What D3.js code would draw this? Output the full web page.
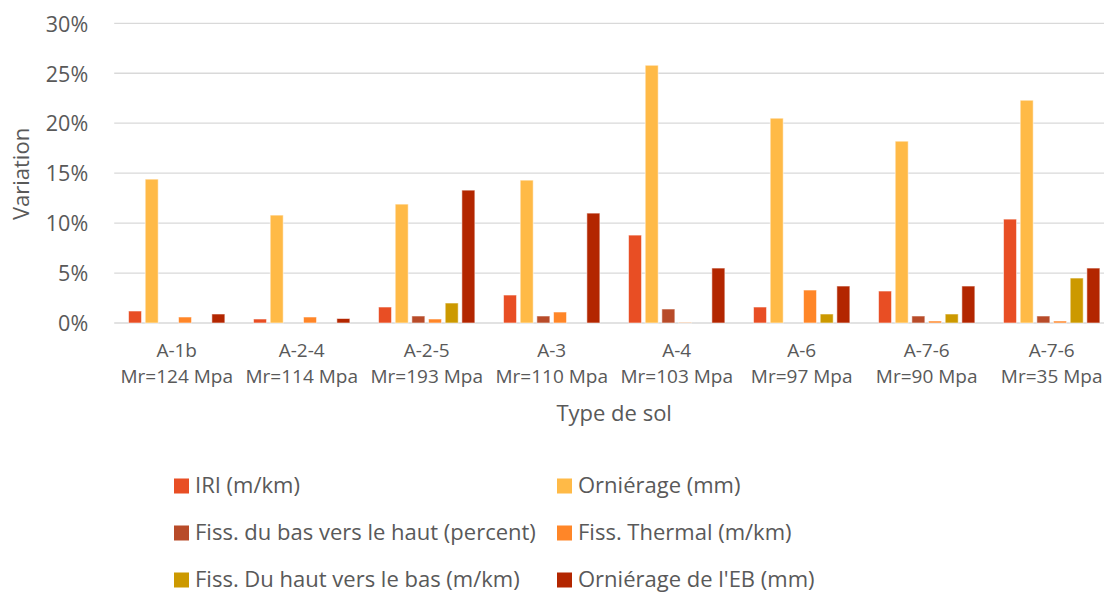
<!DOCTYPE html>
<html>
<head>
<meta charset="utf-8">
<script src="https://cdn.jsdelivr.net/npm/d3@7"></script>
<style>
  body { margin: 0; background: #fff; }
  svg { display: block; font-family: "Open Sans", sans-serif; }
</style>
</head>
<body>
<div id="root"></div>
<script>
const categories = ['A-1b', 'A-2-4', 'A-2-5', 'A-3', 'A-4', 'A-6', 'A-7-6', 'A-7-6'];
const moduli = ['Mr=124 Mpa', 'Mr=114 Mpa', 'Mr=193 Mpa', 'Mr=110 Mpa', 'Mr=103 Mpa', 'Mr=97 Mpa', 'Mr=90 Mpa', 'Mr=35 Mpa'];

const seriesNames = [
  'IRI (m/km)',
  'Orniérage (mm)',
  'Fiss. du bas vers le haut (percent)',
  'Fiss. Thermal (m/km)',
  'Fiss. Du haut vers le bas (m/km)',
  "Orniérage de l'EB (mm)",
];
const seriesColors = ['#e84e24', '#ffba47', '#b84b29', '#ff8628', '#cc9900', '#b32600'];

// variation en %
const iri = [1.2, 0.4, 1.6, 2.8, 8.8, 1.6, 3.2, 10.4];
const ornierage = [14.4, 10.8, 11.9, 14.3, 25.8, 20.5, 18.2, 22.3];
const fissBasHaut = [0, 0, 0.7, 0.7, 1.4, 0, 0.7, 0.7];
const fissThermal = [0.6, 0.6, 0.4, 1.1, 0.05, 3.3, 0.2, 0.2];
const fissHautBas = [0, 0, 2.0, 0, 0, 0.9, 0.9, 4.5];
const ornierageEB = [0.9, 0.45, 13.3, 11.0, 5.5, 3.7, 3.7, 5.5];

const yTicks = [0, 5, 10, 15, 20, 25, 30];

const seriesValues = [iri, ornierage, fissBasHaut, fissThermal, fissHautBas, ornierageEB];

const width = 1104;
const height = 595;
const plotLeft = 114.2;
const plotRight = 1114.2;
const plotTop = 23.3;
const plotBottom = 323;
const textColor = '#595959';

const svg = d3.select('#root')
  .append('svg')
  .attr('width', width)
  .attr('height', height);

const x = d3.scaleBand()
  .domain(d3.range(categories.length))
  .range([plotLeft, plotRight])
  .paddingInner(0.2)
  .paddingOuter(0.1);

const xInner = d3.scaleBand()
  .domain(d3.range(seriesNames.length))
  .range([0, x.bandwidth()])
  .paddingInner(0.22)
  .paddingOuter(0.11);

const y = d3.scaleLinear()
  .domain([0, 30])
  .range([plotBottom, plotTop]);

// grille
svg.append('g')
  .selectAll('line')
  .data(yTicks)
  .enter()
  .append('line')
  .attr('x1', plotLeft)
  .attr('x2', plotRight)
  .attr('y1', d => y(d))
  .attr('y2', d => y(d))
  .attr('stroke', '#d9d9d9')
  .attr('stroke-width', 1.3);

// axe y
const yAxis = svg.append('g')
  .attr('transform', `translate(${plotLeft - 26},0)`)
  .call(d3.axisLeft(y).tickValues(yTicks).tickFormat(d => d + '%').tickSize(0).tickPadding(0));
yAxis.select('.domain').remove();
yAxis.selectAll('text')
  .attr('fill', textColor)
  .attr('font-size', 21.5)
  .attr('font-family', '"Open Sans", sans-serif')
  .attr('dy', '0.36em');

// barres
const groups = svg.append('g')
  .selectAll('g')
  .data(seriesValues)
  .enter()
  .append('g')
  .attr('fill', (d, i) => seriesColors[i]);

groups.each(function(values, s) {
  const pts = values.map((v, i) => ({i, v})).filter(d => d.v > 0);
  d3.select(this)
    .selectAll('rect')
    .data(pts)
    .enter()
    .append('rect')
    .attr('x', d => x(d.i) + xInner(s))
    .attr('width', xInner.bandwidth())
    .attr('y', d => y(d.v))
    .attr('height', d => y(0) - y(d.v))
    .attr('stroke', '#fff')
    .attr('stroke-opacity', 0.55)
    .attr('stroke-width', 1);
});

// libellés x
svg.append('g')
  .selectAll('text')
  .data(categories)
  .enter()
  .append('text')
  .attr('x', (d, i) => x(i) + x.bandwidth() / 2)
  .attr('y', 357)
  .attr('text-anchor', 'middle')
  .attr('fill', textColor)
  .attr('font-size', 19)
  .text(d => d);

svg.append('g')
  .selectAll('text')
  .data(moduli)
  .enter()
  .append('text')
  .attr('x', (d, i) => x(i) + x.bandwidth() / 2)
  .attr('y', 383)
  .attr('text-anchor', 'middle')
  .attr('fill', textColor)
  .attr('font-size', 19)
  .text(d => d);

// titres des axes
svg.append('text')
  .attr('x', (plotLeft + plotRight) / 2)
  .attr('y', 421)
  .attr('text-anchor', 'middle')
  .attr('fill', textColor)
  .attr('font-size', 22)
  .text('Type de sol');

svg.append('text')
  .attr('transform', 'translate(29,174) rotate(-90)')
  .attr('text-anchor', 'middle')
  .attr('fill', textColor)
  .attr('font-size', 22)
  .text('Variation');

// légende
const legend = svg.append('g')
  .selectAll('g')
  .data(seriesNames)
  .enter()
  .append('g')
  .attr('transform', (d, i) => `translate(${i % 2 === 0 ? 174 : 557},${486 + Math.floor(i / 2) * 47})`);

legend.append('rect')
  .attr('x', 0)
  .attr('y', -7.5)
  .attr('width', 15)
  .attr('height', 15)
  .attr('fill', (d, i) => seriesColors[i]);

legend.append('text')
  .attr('x', 21)
  .attr('y', 0)
  .attr('dy', '0.34em')
  .attr('fill', textColor)
  .attr('font-size', 22)
  .text(d => d);
</script>
</body>
</html>
